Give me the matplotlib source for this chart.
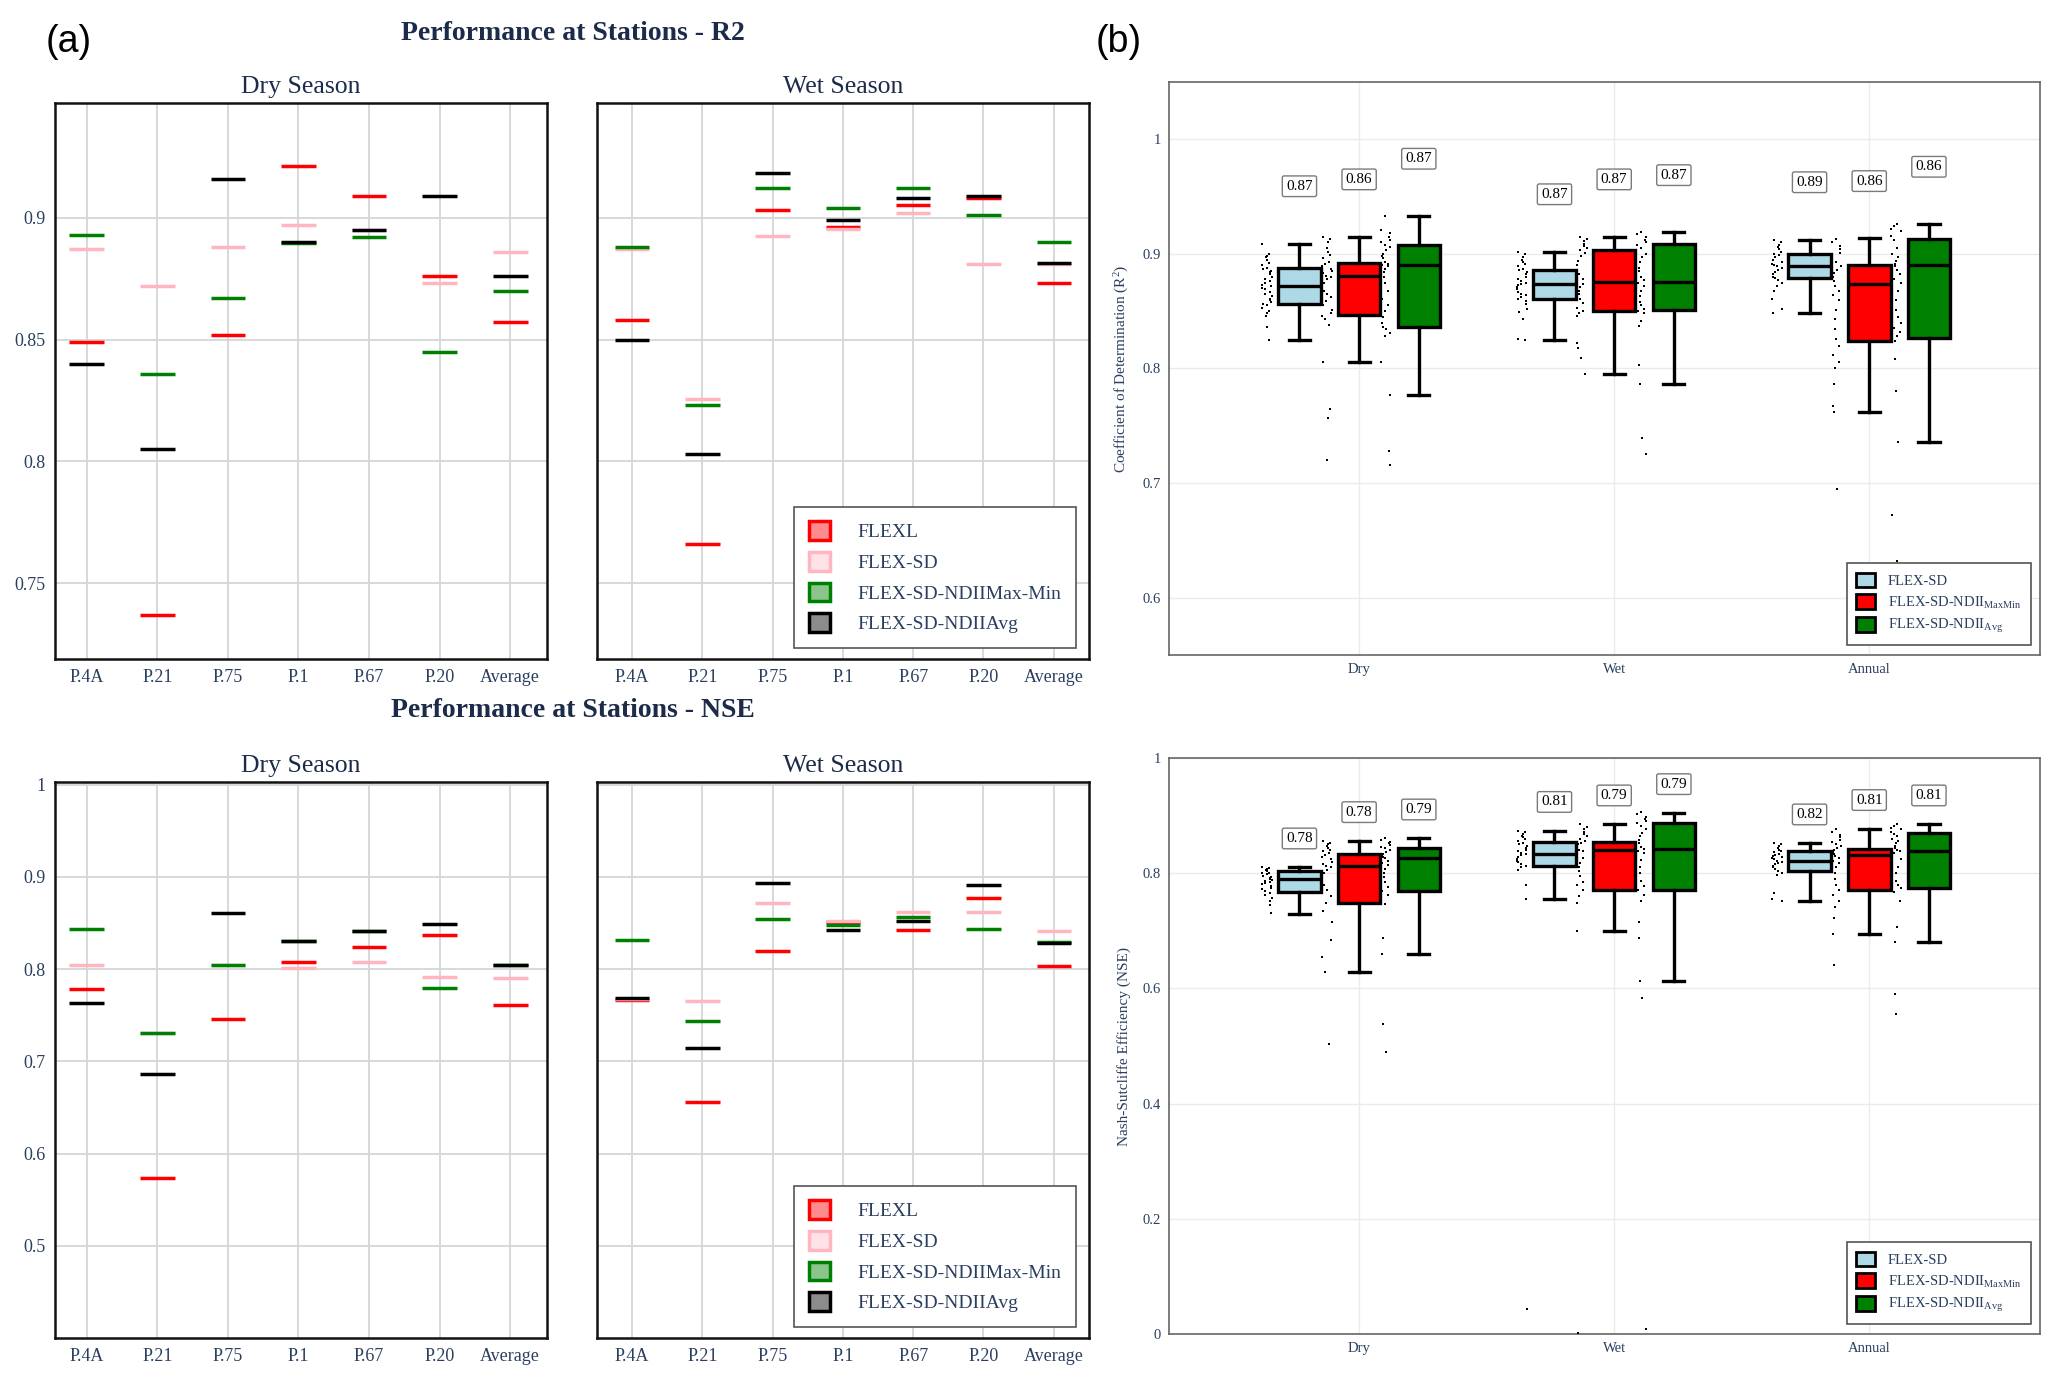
import numpy as np
import matplotlib
matplotlib.use("Agg")
import matplotlib.pyplot as plt
from matplotlib.patches import Patch

plt.rcParams['font.family'] = ['Liberation Serif', 'DejaVu Serif']
plt.rcParams['mathtext.fontset'] = 'custom'
plt.rcParams['mathtext.rm'] = 'Liberation Serif'
plt.rcParams['mathtext.it'] = 'Liberation Serif:italic'

NAVY = '#2a3f5f'
TITLE_NAVY = '#1c2b4a'

# ---------------- data: panel (a) ----------------
stations = ['P.4A', 'P.21', 'P.75', 'P.1', 'P.67', 'P.20', 'Average']
models_a = ['FLEXL', 'FLEX-SD', 'FLEX-SD-NDIIMax-Min', 'FLEX-SD-NDIIAvg']

r2_dry_flexl  = [0.849, 0.737, 0.852, 0.921, 0.909, 0.876, 0.857]
r2_dry_flexsd = [0.887, 0.872, 0.888, 0.897, 0.895, 0.873, 0.886]
r2_dry_maxmin = [0.893, 0.836, 0.867, 0.8896, 0.892, 0.845, 0.870]
r2_dry_avg    = [0.840, 0.805, 0.916, 0.890, 0.895, 0.909, 0.876]

r2_wet_flexl  = [0.858, 0.766, 0.903, 0.8962, 0.905, 0.908, 0.873]
r2_wet_flexsd = [0.8872, 0.8255, 0.8925, 0.8955, 0.902, 0.881, 0.881]
r2_wet_maxmin = [0.888, 0.823, 0.912, 0.904, 0.912, 0.901, 0.890]
r2_wet_avg    = [0.850, 0.803, 0.9185, 0.899, 0.908, 0.909, 0.8815]

nse_dry_flexl  = [0.779, 0.5735, 0.746, 0.8075, 0.824, 0.837, 0.761]
nse_dry_flexsd = [0.805, 0.731, 0.805, 0.801, 0.808, 0.791, 0.790]
nse_dry_maxmin = [0.844, 0.731, 0.805, 0.831, 0.8416, 0.780, 0.805]
nse_dry_avg    = [0.763, 0.686, 0.8606, 0.831, 0.8416, 0.8487, 0.805]

nse_wet_flexl  = [0.767, 0.656, 0.820, 0.851, 0.843, 0.877, 0.803]
nse_wet_flexsd = [0.768, 0.766, 0.872, 0.852, 0.8615, 0.862, 0.841]
nse_wet_maxmin = [0.832, 0.744, 0.854, 0.848, 0.857, 0.844, 0.8296]
nse_wet_avg    = [0.769, 0.714, 0.894, 0.843, 0.8527, 0.8916, 0.828]

line_colors = ['#ff0000', '#ffb6c1', '#008000', '#000000']
patch_faces = [(1, 0, 0, 0.45), (1, 0.75, 0.8, 0.45), (0, 0.5, 0, 0.45), (0, 0, 0, 0.45)]

# ---------------- data: panel (b) ----------------
seasons = ['Dry', 'Wet', 'Annual']
models_b = ['FLEX-SD', 'FLEX-SD-NDII$_{\\mathrm{MaxMin}}$', 'FLEX-SD-NDII$_{\\mathrm{Avg}}$']
box_colors = ['#add8e6', '#ff0000', '#008000']

# [whislo, q1, median, q3, whishi] for Dry, Wet, Annual
r2_sd_stats     = [[0.825, 0.856, 0.872, 0.888, 0.909],
                   [0.825, 0.861, 0.874, 0.886, 0.902],
                   [0.848, 0.879, 0.8895, 0.900, 0.9125]]
r2_maxmin_stats = [[0.806, 0.847, 0.8806, 0.892, 0.915],
                   [0.7955, 0.850, 0.8755, 0.9036, 0.915],
                   [0.762, 0.824, 0.8738, 0.890, 0.9135]]
r2_avg_stats    = [[0.777, 0.836, 0.890, 0.9074, 0.933],
                   [0.786, 0.851, 0.8755, 0.9084, 0.9187],
                   [0.736, 0.827, 0.8906, 0.9129, 0.926]]
r2_sd_labels     = ['0.87', '0.87', '0.89']
r2_maxmin_labels = ['0.86', '0.87', '0.86']
r2_avg_labels    = ['0.87', '0.87', '0.86']

nse_sd_stats     = [[0.730, 0.767, 0.790, 0.8034, 0.8103],
                    [0.755, 0.8124, 0.833, 0.854, 0.8737],
                    [0.751, 0.804, 0.8207, 0.8386, 0.852]]
nse_maxmin_stats = [[0.628, 0.749, 0.813, 0.834, 0.856],
                    [0.700, 0.770, 0.8406, 0.854, 0.885],
                    [0.695, 0.771, 0.8317, 0.8427, 0.877]]
nse_avg_stats    = [[0.659, 0.769, 0.826, 0.843, 0.8606],
                    [0.613, 0.770, 0.8427, 0.888, 0.9046],
                    [0.680, 0.774, 0.8386, 0.870, 0.885]]
nse_sd_labels     = ['0.78', '0.81', '0.82']
nse_maxmin_labels = ['0.78', '0.79', '0.81']
nse_avg_labels    = ['0.79', '0.79', '0.81']

r2_sd_points = [
    [0.909, 0.900, 0.898, 0.897, 0.895, 0.892, 0.890, 0.888, 0.887, 0.885, 0.884, 0.882, 0.880, 0.878,
     0.876, 0.875, 0.873, 0.872, 0.872, 0.870, 0.869, 0.867, 0.865, 0.863, 0.861, 0.860, 0.858, 0.856,
     0.855, 0.853, 0.850, 0.848, 0.846, 0.836, 0.825],
    [0.902, 0.900, 0.897, 0.895, 0.893, 0.891, 0.889, 0.887, 0.886, 0.884, 0.882, 0.880, 0.878, 0.876,
     0.875, 0.874, 0.873, 0.871, 0.869, 0.867, 0.865, 0.864, 0.862, 0.861, 0.859, 0.856, 0.852, 0.849,
     0.843, 0.826, 0.825],
    [0.912, 0.910, 0.908, 0.906, 0.904, 0.902, 0.900, 0.899, 0.897, 0.895, 0.893, 0.891, 0.890, 0.889,
     0.888, 0.886, 0.884, 0.882, 0.880, 0.879, 0.877, 0.875, 0.872, 0.868, 0.861, 0.852, 0.848]]
r2_maxmin_points = [
    [0.915, 0.913, 0.910, 0.905, 0.902, 0.899, 0.896, 0.893, 0.891, 0.889, 0.887, 0.885, 0.883, 0.881,
     0.880, 0.878, 0.875, 0.872, 0.870, 0.868, 0.865, 0.862, 0.859, 0.855, 0.851, 0.848, 0.846, 0.843,
     0.838, 0.806, 0.765, 0.757, 0.720],
    [0.915, 0.913, 0.911, 0.909, 0.907, 0.905, 0.903, 0.901, 0.898, 0.894, 0.890, 0.886, 0.882, 0.878,
     0.876, 0.874, 0.871, 0.868, 0.865, 0.861, 0.857, 0.853, 0.850, 0.848, 0.846, 0.822, 0.818, 0.809,
     0.795],
    [0.913, 0.910, 0.907, 0.904, 0.901, 0.897, 0.893, 0.889, 0.886, 0.883, 0.880, 0.876, 0.872, 0.868,
     0.864, 0.860, 0.851, 0.843, 0.834, 0.826, 0.820, 0.812, 0.806, 0.800, 0.786, 0.767, 0.762, 0.695]]
r2_avg_points = [
    [0.933, 0.921, 0.918, 0.915, 0.912, 0.910, 0.908, 0.906, 0.903, 0.900, 0.898, 0.896, 0.893, 0.891,
     0.890, 0.889, 0.887, 0.884, 0.880, 0.875, 0.868, 0.861, 0.855, 0.850, 0.845, 0.840, 0.836, 0.834,
     0.831, 0.828, 0.806, 0.777, 0.728, 0.716],
    [0.919, 0.917, 0.915, 0.912, 0.910, 0.908, 0.905, 0.900, 0.897, 0.893, 0.888, 0.885, 0.880, 0.877,
     0.875, 0.872, 0.868, 0.863, 0.858, 0.855, 0.852, 0.850, 0.848, 0.841, 0.837, 0.803, 0.786, 0.739,
     0.725],
    [0.926, 0.924, 0.922, 0.920, 0.916, 0.912, 0.905, 0.900, 0.897, 0.894, 0.891, 0.889, 0.886, 0.882,
     0.878, 0.875, 0.868, 0.860, 0.851, 0.845, 0.840, 0.835, 0.832, 0.828, 0.824, 0.808, 0.780, 0.736,
     0.672, 0.632]]

nse_sd_points = [
    [0.811, 0.809, 0.807, 0.805, 0.803, 0.801, 0.800, 0.798, 0.796, 0.794, 0.792, 0.790, 0.789, 0.787,
     0.785, 0.783, 0.781, 0.778, 0.775, 0.772, 0.769, 0.766, 0.762, 0.757, 0.752, 0.745, 0.731],
    [0.874, 0.871, 0.868, 0.865, 0.862, 0.859, 0.856, 0.853, 0.850, 0.847, 0.844, 0.841, 0.838, 0.835,
     0.833, 0.831, 0.828, 0.825, 0.822, 0.819, 0.816, 0.813, 0.810, 0.806, 0.780, 0.756, 0.043],
    [0.852, 0.850, 0.847, 0.844, 0.841, 0.838, 0.836, 0.834, 0.832, 0.830, 0.828, 0.826, 0.824, 0.822,
     0.820, 0.818, 0.816, 0.813, 0.810, 0.807, 0.804, 0.800, 0.797, 0.766, 0.756, 0.751]]
nse_maxmin_points = [
    [0.856, 0.853, 0.850, 0.847, 0.844, 0.841, 0.838, 0.835, 0.832, 0.828, 0.824, 0.820, 0.816, 0.813,
     0.810, 0.805, 0.800, 0.795, 0.788, 0.780, 0.770, 0.760, 0.749, 0.735, 0.715, 0.684, 0.655, 0.628,
     0.503],
    [0.885, 0.880, 0.876, 0.872, 0.868, 0.864, 0.860, 0.856, 0.853, 0.850, 0.847, 0.844, 0.841, 0.838,
     0.833, 0.826, 0.818, 0.810, 0.804, 0.795, 0.785, 0.780, 0.770, 0.760, 0.749, 0.700, 0.002],
    [0.877, 0.872, 0.867, 0.862, 0.858, 0.855, 0.851, 0.847, 0.843, 0.840, 0.836, 0.833, 0.830, 0.826,
     0.822, 0.818, 0.810, 0.800, 0.790, 0.780, 0.771, 0.763, 0.752, 0.742, 0.722, 0.695, 0.640]]
nse_avg_points = [
    [0.861, 0.858, 0.855, 0.852, 0.849, 0.846, 0.843, 0.840, 0.837, 0.834, 0.831, 0.828, 0.826, 0.822,
     0.818, 0.814, 0.808, 0.800, 0.794, 0.785, 0.776, 0.769, 0.763, 0.746, 0.687, 0.659, 0.538, 0.490],
    [0.906, 0.902, 0.898, 0.894, 0.890, 0.887, 0.882, 0.876, 0.870, 0.864, 0.858, 0.852, 0.846, 0.842,
     0.838, 0.835, 0.823, 0.811, 0.800, 0.787, 0.778, 0.770, 0.762, 0.752, 0.715, 0.688, 0.613, 0.583,
     0.009],
    [0.885, 0.882, 0.879, 0.876, 0.872, 0.868, 0.864, 0.860, 0.856, 0.852, 0.848, 0.844, 0.840, 0.838,
     0.835, 0.825, 0.811, 0.800, 0.787, 0.780, 0.774, 0.768, 0.752, 0.706, 0.680, 0.591, 0.556]]

# ---------------- figure ----------------
fig = plt.figure(figsize=(20.67, 13.87), dpi=100)
fig.patch.set_facecolor('white')

ax_r2d = fig.add_axes([0.0266, 0.5249, 0.238, 0.4008])
ax_r2w = fig.add_axes([0.2888, 0.5249, 0.238, 0.4008])
ax_nd = fig.add_axes([0.0266, 0.0353, 0.238, 0.4009])
ax_nw = fig.add_axes([0.2888, 0.0353, 0.238, 0.4009])
ax_br = fig.add_axes([0.5656, 0.5278, 0.4214, 0.4131])
ax_bn = fig.add_axes([0.5656, 0.0382, 0.4214, 0.4153])


def station_panel(ax, series, title, ylim, yticks, ylabels, show_y, xlim, legend):
    x = np.arange(len(stations))
    ax.set_axisbelow(True)
    for vals, col in zip(series, line_colors):
        ax.hlines(vals, x - 0.245, x + 0.245, colors=col, lw=2.5, zorder=3)
    ax.set_xlim(*xlim)
    ax.set_ylim(*ylim)
    ax.set_xticks(x)
    ax.set_xticklabels(stations, fontsize=13, color=NAVY)
    ax.set_yticks(yticks)
    if show_y:
        ax.set_yticklabels(ylabels, fontsize=13, color=NAVY)
    else:
        ax.set_yticklabels([])
    ax.tick_params(length=0, pad=7)
    ax.grid(True, color='#d3d6da', lw=1.3)
    for sp in ax.spines.values():
        sp.set_color('#111111')
        sp.set_linewidth(1.8)
    ax.set_title(title, fontsize=18.5, color=TITLE_NAVY, pad=7)
    if legend:
        handles = [Patch(facecolor=f, edgecolor=c, lw=2.5) for f, c in zip(patch_faces, line_colors)]
        lg = ax.legend(handles, models_a, loc='lower right', bbox_to_anchor=(0.974, 0.02),
                       borderaxespad=0, fontsize=14, frameon=True, fancybox=False,
                       handlelength=1.1, handleheight=1.1, handletextpad=1.4,
                       labelspacing=0.55, borderpad=0.75, framealpha=1)
        lg.get_frame().set_edgecolor('#555555')
        lg.get_frame().set_linewidth(1.2)
        for t in lg.get_texts():
            t.set_color(NAVY)


station_panel(ax_r2d, [r2_dry_flexl, r2_dry_flexsd, r2_dry_maxmin, r2_dry_avg], 'Dry Season',
              (0.719, 0.947), [0.75, 0.8, 0.85, 0.9], ['0.75', '0.8', '0.85', '0.9'], True,
              (-0.45, 6.52), False)
station_panel(ax_r2w, [r2_wet_flexl, r2_wet_flexsd, r2_wet_maxmin, r2_wet_avg], 'Wet Season',
              (0.719, 0.947), [0.75, 0.8, 0.85, 0.9], [], False, (-0.5, 6.5), True)
station_panel(ax_nd, [nse_dry_flexl, nse_dry_flexsd, nse_dry_maxmin, nse_dry_avg], 'Dry Season',
              (0.4, 1.003), [0.5, 0.6, 0.7, 0.8, 0.9, 1.0], ['0.5', '0.6', '0.7', '0.8', '0.9', '1'], True,
              (-0.45, 6.52), False)
station_panel(ax_nw, [nse_wet_flexl, nse_wet_flexsd, nse_wet_maxmin, nse_wet_avg], 'Wet Season',
              (0.4, 1.003), [0.5, 0.6, 0.7, 0.8, 0.9, 1.0], [], False, (-0.5, 6.5), True)


def box_panel(ax, stats_list, points_list, labels_list, ylim, yticks, ylabels, ylabel):
    offsets = [-0.234, 0.0, 0.234]
    ax.set_axisbelow(True)
    for m, (stats, pts, labs, col, off) in enumerate(zip(stats_list, points_list, labels_list,
                                                         box_colors, offsets)):
        bstats = []
        pos = []
        for s_i, st in enumerate(stats):
            bstats.append(dict(whislo=st[0], q1=st[1], med=st[2], q3=st[3], whishi=st[4], fliers=[]))
            pos.append(s_i + 1 + off)
        ax.bxp(bstats, positions=pos, widths=0.167, showfliers=False, patch_artist=True,
               boxprops=dict(facecolor=col, edgecolor='black', lw=2.4),
               medianprops=dict(color='black', lw=2.4),
               whiskerprops=dict(color='black', lw=2.4),
               capprops=dict(color='black', lw=2.4), capwidths=0.083, manage_ticks=False,
               zorder=3)
        for s_i, vals in enumerate(pts):
            n = len(vals)
            # deterministic horizontal spread of the points (position only)
            jit = np.array([(((i * i * 31 + i * 17 + m * 5 + s_i * 3) % 29) / 28.0 * 2 - 1) * 0.02
                            for i in range(n)])
            xs = s_i + 1 + off - 0.127 + jit
            ax.scatter(xs, vals, s=4.5, color='black', zorder=6, linewidths=0, marker='s')
            ax.text(s_i + 1 + off, stats[s_i][4] + 0.05, labs[s_i], ha='center', va='center',
                    fontsize=11, color='black', zorder=5,
                    bbox=dict(boxstyle='round,pad=0.25,rounding_size=0.12', fc='white',
                              ec='#7a7a7a', lw=1.0))
    ax.set_xlim(0.255, 3.67)
    ax.set_ylim(*ylim)
    ax.set_xticks([1, 2, 3])
    ax.set_xticklabels(seasons, fontsize=10.5, color=NAVY)
    ax.set_yticks(yticks)
    ax.set_yticklabels(ylabels, fontsize=10.5, color=NAVY)
    ax.tick_params(length=0, pad=6)
    ax.grid(True, color='#ebebeb', lw=1.0)
    for sp in ax.spines.values():
        sp.set_color('#666666')
        sp.set_linewidth(1.2)
    ax.set_ylabel(ylabel, fontsize=11, color=NAVY, labelpad=8)
    handles = [Patch(facecolor=c, edgecolor='black', lw=2) for c in box_colors]
    lg = ax.legend(handles, models_b, loc='lower right', bbox_to_anchor=(0.989, 0.018),
                   borderaxespad=0, fontsize=10.5, frameon=True, fancybox=False,
                   handlelength=1.25, handleheight=1.2, handletextpad=0.9,
                   labelspacing=0.42, borderpad=0.65, framealpha=1)
    lg.set_zorder(5)
    lg.get_frame().set_edgecolor('#555555')
    lg.get_frame().set_linewidth(1.2)
    for t in lg.get_texts():
        t.set_color(NAVY)


box_panel(ax_br, [r2_sd_stats, r2_maxmin_stats, r2_avg_stats],
          [r2_sd_points, r2_maxmin_points, r2_avg_points],
          [r2_sd_labels, r2_maxmin_labels, r2_avg_labels],
          (0.55, 1.05), [0.6, 0.7, 0.8, 0.9, 1.0], ['0.6', '0.7', '0.8', '0.9', '1'],
          'Coefficient of Determination (R$^2$)')
box_panel(ax_bn, [nse_sd_stats, nse_maxmin_stats, nse_avg_stats],
          [nse_sd_points, nse_maxmin_points, nse_avg_points],
          [nse_sd_labels, nse_maxmin_labels, nse_avg_labels],
          (0.0, 1.0), [0, 0.2, 0.4, 0.6, 0.8, 1.0], ['0', '0.2', '0.4', '0.6', '0.8', '1'],
          'Nash-Sutcliffe Efficiency (NSE)')

fig.text(0.277, 0.976, 'Performance at Stations - R2', ha='center', va='center',
         fontsize=20, fontweight='bold', color=TITLE_NAVY)
fig.text(0.277, 0.4875, 'Performance at Stations - NSE', ha='center', va='center',
         fontsize=20, fontweight='bold', color=TITLE_NAVY)
fig.text(0.0332, 0.970, '(a)', ha='center', va='center', fontsize=27,
         family=['Liberation Sans', 'DejaVu Sans'], color='black')
fig.text(0.541, 0.970, '(b)', ha='center', va='center', fontsize=27,
         family=['Liberation Sans', 'DejaVu Sans'], color='black')

fig.savefig('out.png', dpi=100, facecolor='white')
